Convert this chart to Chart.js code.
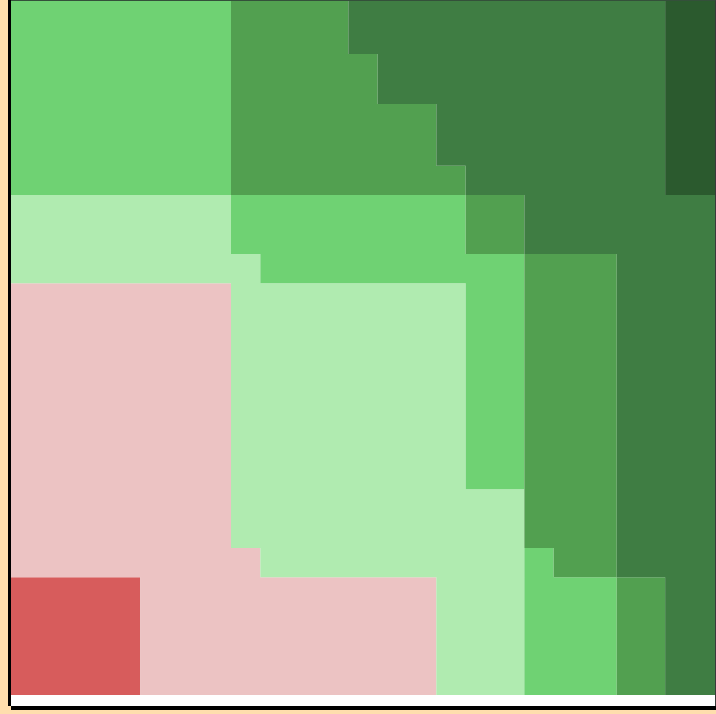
<!DOCTYPE html>
<html>
<head>
<meta charset="utf-8">
<script src="https://cdn.jsdelivr.net/npm/chart.js"></script>
<style>
  html, body { margin: 0; padding: 0; background: #FFDEAD; overflow: hidden; }
  #frame {
    position: absolute;
    left: 11px;
    top: 0;
    width: 704px;
    height: 705px;
    background: #fff;
    border-top: 1px solid #34503a;
    border-right: 1px solid #3a3a3a;
    box-shadow: -3px 0 0 #000, 0 4px 0 #000;
  }
</style>
</head>
<body>
<div id="frame"><canvas id="chart"></canvas></div>
<script>
// column starts along x, each column keeps its level bounds up to the next start
const X_MAX = 24;
const Y_MAX = 23.6;
const colStart = [0, 4.4, 7.5, 8.5, 11.5, 12.5, 14.5, 15.5, 17.5, 18.5, 20.65, 22.3];

// lowest y at which each level begins, per column
const redFrom   = [0, 0, 0, 0, 0, 0, 0, 0, 0, 0, 0, 0];
const pinkFrom  = [4, 0, 0, 0, 0, 0, 0, 0, 0, 0, 0, 0];
const lightFrom = [14, 14, 5, 4, 4, 4, 0, 0, 0, 0, 0, 0];
const greenFrom = [17, 17, 15, 14, 14, 14, 14, 7, 0, 0, 0, 0];
const midFrom   = [23.6, 23.6, 17, 17, 17, 17, 17, 15, 5, 4, 0, 0];
const darkFrom  = [23.6, 23.6, 23.6, 23.6, 21.8, 20.1, 18, 17, 15, 15, 4, 0];
const deepFrom  = [23.6, 23.6, 23.6, 23.6, 23.6, 23.6, 23.6, 23.6, 23.6, 23.6, 23.6, 17];

const levelNames  = ['red', 'pink', 'light', 'green', 'mid', 'dark', 'deep'];
const levelBounds = [redFrom, pinkFrom, lightFrom, greenFrom, midFrom, darkFrom, deepFrom];
const levelColors = ['#D75C5C', '#ECC3C3', '#B0EBB0', '#6FD273', '#52A050', '#3F7D43', '#2B5A2E'];

function stepPoints(vals) {
    let pts = colStart.map((x, k) => ({x: x, y: vals[k]}));
    pts.push({x: X_MAX, y: vals[vals.length - 1]});
    return pts;
}

// each level is a band between its own boundary and the next one up
const datasets = levelBounds.map((vals, i) => ({
    label: levelNames[i],
    data: stepPoints(vals),
    stepped: 'before',
    fill: i < levelBounds.length - 1 ? {target: i + 1} : 'end',
    backgroundColor: levelColors[i],
    borderColor: 'rgba(0,0,0,0)',
    borderWidth: 0,
    pointRadius: 0,
    order: levelBounds.length - i,
}));

const config = {
    type: 'line',
    data: {datasets: datasets},
    options: {
        responsive: true,
        maintainAspectRatio: false,
        animation: false,
        layout: {padding: {left: 0, right: 0, top: 0, bottom: 11}},
        plugins: {
            legend: {display: false},
            tooltip: {enabled: false},
        },
        scales: {
            x: {type: 'linear', min: 0, max: X_MAX, display: false},
            y: {type: 'linear', min: 0, max: Y_MAX, display: false},
        },
    },
};

window.addEventListener('DOMContentLoaded', () => {
    new Chart('chart', config);
});
</script>
</body>
</html>
